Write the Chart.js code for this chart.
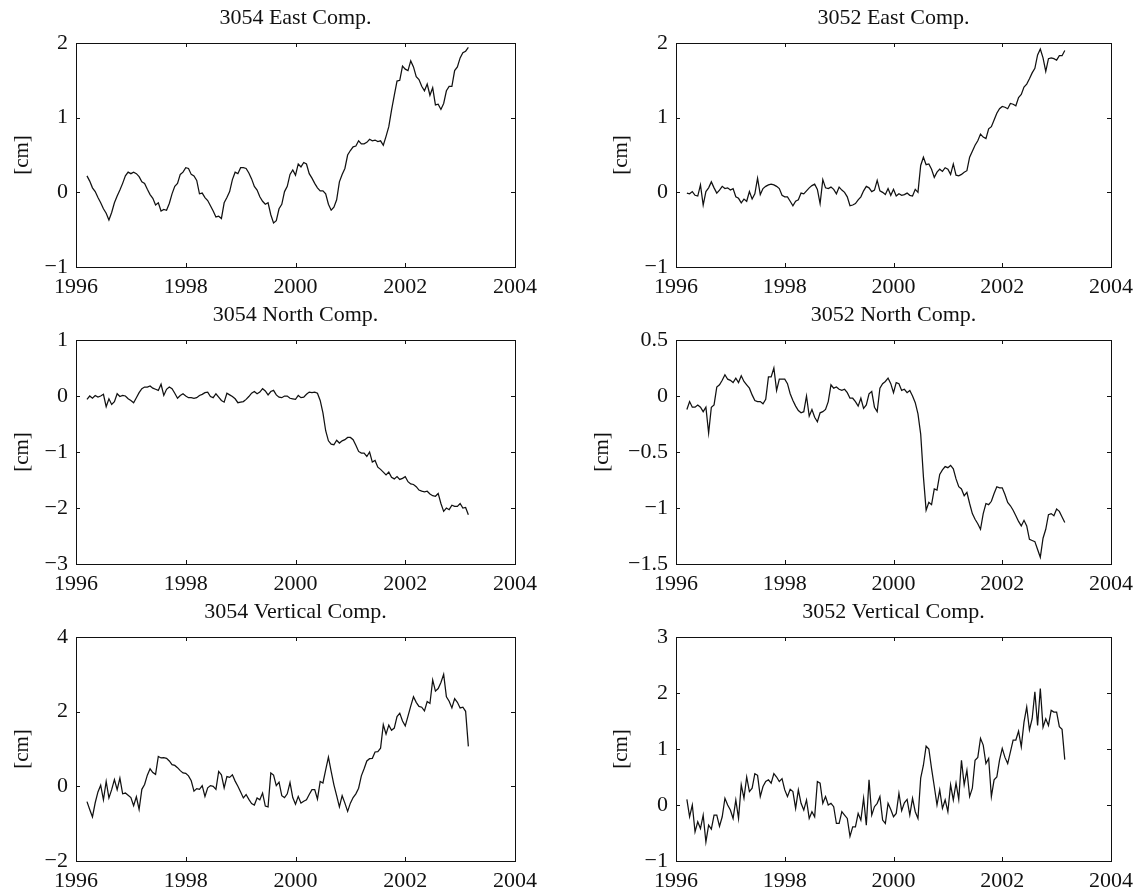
<!doctype html>
<html>
<head>
<meta charset="utf-8" />
<title>GPS displacement, stations 3054 and 3052</title>
<script src="https://cdn.jsdelivr.net/npm/chart.js"></script>
<style>
  html, body { margin: 0; background: #fff; }
  #fig { position: relative; width: 1140px; height: 896px; }
  #fig canvas { position: absolute; }
</style>
</head>
<body>
<div id="fig"></div>
<script>
// sampling: first epoch and spacing in decimal years
const T0 = 1996.2;
const DT = 0.05;

const X_TICKS = [1996, 1998, 2000, 2002, 2004];

// displacement series [cm]
const east3054 = [
  0.22, 0.15, 0.06, 0.01, -0.07, -0.14, -0.22, -0.28, -0.37, -0.27,
  -0.14, -0.05, 0.03, 0.12, 0.22, 0.27, 0.25, 0.27, 0.25, 0.21,
  0.14, 0.12, 0.04, -0.03, -0.08, -0.17, -0.14, -0.25, -0.23, -0.24,
  -0.15, -0.02, 0.08, 0.12, 0.24, 0.27, 0.33, 0.32, 0.24, 0.22,
  0.16, -0.02, -0.01, -0.07, -0.11, -0.18, -0.25, -0.33, -0.32, -0.35,
  -0.14, -0.07, 0.01, 0.17, 0.27, 0.25, 0.33, 0.33, 0.32, 0.26,
  0.18, 0.08, 0.03, -0.06, -0.12, -0.16, -0.14, -0.30, -0.41, -0.38,
  -0.22, -0.16, 0.01, 0.08, 0.24, 0.30, 0.23, 0.38, 0.34, 0.40,
  0.38, 0.25, 0.19, 0.12, 0.06, 0.02, 0.02, -0.02, -0.16, -0.24,
  -0.20, -0.10, 0.14, 0.24, 0.32, 0.50, 0.56, 0.61, 0.62, 0.69,
  0.65, 0.65, 0.67, 0.71, 0.69, 0.70, 0.68, 0.69, 0.63, 0.75,
  0.88, 1.10, 1.30, 1.49, 1.50, 1.69, 1.65, 1.63, 1.76, 1.68,
  1.55, 1.51, 1.42, 1.36, 1.45, 1.30, 1.40, 1.17, 1.18, 1.11,
  1.19, 1.36, 1.42, 1.42, 1.63, 1.68, 1.80, 1.87, 1.89, 1.94
];

const east3052 = [
  -0.01, -0.02, 0.01, -0.04, -0.05, 0.10, -0.17, 0.01, 0.06, 0.14,
  0.06, -0.01, 0.03, 0.08, 0.05, 0.06, 0.03, 0.05, -0.06, -0.08,
  -0.14, -0.09, -0.12, 0.01, -0.09, -0.02, 0.19, -0.03, 0.05, 0.08,
  0.10, 0.11, 0.10, 0.08, 0.05, -0.04, -0.06, -0.06, -0.12, -0.18,
  -0.12, -0.10, -0.01, -0.02, 0.02, 0.06, 0.09, 0.11, 0.04, -0.15,
  0.17, 0.06, 0.05, 0.07, 0.04, -0.02, 0.07, 0.03, 0.00, -0.06,
  -0.18, -0.17, -0.15, -0.10, -0.06, 0.02, 0.08, 0.06, 0.01, 0.03,
  0.16, 0.02, 0.00, -0.03, 0.05, -0.04, 0.04, -0.05, -0.02, -0.04,
  -0.03, -0.01, -0.04, -0.05, 0.04, 0.00, 0.36, 0.47, 0.37, 0.38,
  0.31, 0.20, 0.27, 0.31, 0.28, 0.33, 0.31, 0.24, 0.38, 0.23,
  0.22, 0.24, 0.27, 0.29, 0.47, 0.55, 0.63, 0.69, 0.78, 0.74,
  0.72, 0.85, 0.88, 0.97, 1.06, 1.12, 1.15, 1.14, 1.12, 1.19,
  1.18, 1.16, 1.27, 1.31, 1.41, 1.45, 1.52, 1.60, 1.66, 1.84,
  1.92, 1.80, 1.62, 1.79, 1.80, 1.79, 1.77, 1.83, 1.83, 1.90
];

const north3054 = [
  -0.06, 0.00, -0.04, 0.01, -0.02, 0.00, 0.03, -0.19, -0.05, -0.15,
  -0.10, 0.04, -0.01, 0.01, 0.00, -0.05, -0.08, -0.12, -0.03, 0.06,
  0.13, 0.16, 0.16, 0.18, 0.14, 0.12, 0.10, 0.21, 0.01, 0.12,
  0.16, 0.13, 0.05, -0.04, 0.01, 0.04, 0.00, -0.03, -0.03, -0.04,
  -0.03, 0.01, 0.03, 0.06, 0.07, -0.01, -0.03, 0.04, -0.02, -0.08,
  -0.11, 0.05, 0.02, -0.01, -0.05, -0.12, -0.11, -0.10, -0.06, -0.01,
  0.05, 0.08, 0.04, 0.07, 0.13, 0.09, 0.02, 0.08, 0.10, 0.02,
  -0.02, -0.03, 0.00, 0.00, -0.04, -0.05, -0.06, 0.01, -0.03, -0.02,
  0.03, 0.07, 0.06, 0.07, 0.05, -0.08, -0.30, -0.62, -0.80, -0.86,
  -0.87, -0.79, -0.84, -0.80, -0.78, -0.74, -0.74, -0.78, -0.88, -0.99,
  -1.02, -1.02, -1.08, -1.00, -1.18, -1.15, -1.27, -1.31, -1.36, -1.41,
  -1.36, -1.45, -1.48, -1.44, -1.49, -1.47, -1.44, -1.53, -1.57, -1.58,
  -1.62, -1.68, -1.70, -1.71, -1.70, -1.75, -1.78, -1.79, -1.74, -1.92,
  -2.06, -2.00, -2.03, -1.95, -1.97, -1.97, -1.92, -2.00, -1.99, -2.12
];

const north3052 = [
  -0.12, -0.05, -0.10, -0.10, -0.08, -0.10, -0.14, -0.10, -0.33, -0.10,
  -0.08, 0.08, 0.10, 0.14, 0.19, 0.15, 0.14, 0.12, 0.16, 0.12,
  0.18, 0.13, 0.10, 0.07, 0.01, -0.04, -0.05, -0.05, -0.07, -0.03,
  0.17, 0.17, 0.25, 0.05, 0.15, 0.15, 0.15, 0.11, 0.02, -0.04,
  -0.09, -0.13, -0.15, -0.14, 0.00, -0.18, -0.12, -0.19, -0.23, -0.15,
  -0.14, -0.12, -0.05, 0.10, 0.07, 0.08, 0.06, 0.05, 0.06, 0.03,
  -0.02, -0.02, -0.05, -0.09, -0.02, -0.11, -0.08, 0.02, 0.04, -0.10,
  -0.14, 0.07, 0.11, 0.13, 0.16, 0.11, 0.03, 0.12, 0.11, 0.05,
  0.06, 0.03, 0.05, 0.00, -0.06, -0.16, -0.34, -0.72, -1.02, -0.95,
  -0.97, -0.83, -0.84, -0.70, -0.66, -0.63, -0.64, -0.62, -0.65, -0.74,
  -0.81, -0.83, -0.89, -0.86, -0.96, -1.05, -1.10, -1.14, -1.19, -1.05,
  -0.96, -0.97, -0.94, -0.87, -0.81, -0.82, -0.82, -0.88, -0.95, -0.98,
  -1.02, -1.07, -1.12, -1.16, -1.11, -1.16, -1.28, -1.29, -1.30, -1.37,
  -1.44, -1.27, -1.19, -1.06, -1.05, -1.07, -1.01, -1.03, -1.08, -1.13
];

const vert3054 = [
  -0.41, -0.62, -0.82, -0.44, -0.15, 0.03, -0.36, 0.13, -0.31, -0.09,
  0.18, -0.09, 0.22, -0.20, -0.18, -0.24, -0.30, -0.52, -0.28, -0.62,
  -0.08, 0.05, 0.30, 0.47, 0.37, 0.32, 0.80, 0.76, 0.77, 0.75,
  0.68, 0.58, 0.56, 0.50, 0.42, 0.36, 0.35, 0.28, 0.15, -0.13,
  -0.06, -0.08, 0.02, -0.27, -0.04, 0.02, 0.00, -0.08, 0.40, 0.31,
  -0.04, 0.26, 0.24, 0.31, 0.14, 0.00, -0.15, -0.31, -0.22, -0.35,
  -0.46, -0.50, -0.31, -0.36, -0.18, -0.53, -0.55, 0.36, 0.30, 0.02,
  0.11, -0.25, -0.30, -0.20, 0.10, -0.30, -0.48, -0.27, -0.45, -0.40,
  -0.36, -0.22, -0.09, -0.09, -0.34, 0.13, 0.09, 0.44, 0.78, 0.40,
  0.04, -0.25, -0.55, -0.25, -0.45, -0.67, -0.45, -0.30, -0.20, -0.05,
  0.28, 0.47, 0.68, 0.74, 0.75, 0.92, 0.93, 1.02, 1.65, 1.40,
  1.64, 1.50, 1.56, 1.87, 1.96, 1.75, 1.62, 1.88, 2.15, 2.40,
  2.25, 2.14, 2.12, 2.02, 2.27, 2.22, 2.85, 2.55, 2.62, 2.78,
  3.00, 2.40, 2.28, 2.10, 2.35, 2.25, 2.10, 2.12, 2.01, 1.07
];

const vert3052 = [
  0.10, -0.21, 0.00, -0.48, -0.30, -0.42, -0.18, -0.66, -0.36, -0.43,
  -0.18, -0.18, -0.38, -0.21, 0.12, 0.00, -0.09, -0.24, 0.09, -0.24,
  0.36, 0.12, 0.50, 0.24, 0.30, 0.56, 0.53, 0.15, 0.33, 0.42,
  0.45, 0.39, 0.56, 0.50, 0.42, 0.47, 0.27, 0.15, 0.28, 0.24,
  -0.06, 0.27, 0.03, -0.09, 0.09, -0.24, -0.12, -0.21, 0.42, 0.39,
  0.03, 0.15, 0.00, 0.03, -0.03, -0.33, -0.33, -0.12, -0.18, -0.24,
  -0.56, -0.39, -0.39, -0.15, -0.27, 0.12, -0.36, 0.45, -0.18, -0.03,
  0.03, 0.15, -0.27, -0.33, 0.03, -0.08, -0.21, -0.15, 0.21, -0.10,
  0.04, 0.10, -0.18, 0.12, -0.12, -0.24, 0.48, 0.71, 1.05, 1.00,
  0.65, 0.33, 0.00, 0.27, -0.06, 0.09, -0.12, 0.36, 0.09, 0.39,
  0.10, 0.80, 0.36, 0.62, 0.15, 0.30, 0.80, 0.85, 1.19, 1.07,
  0.74, 0.83, 0.15, 0.45, 0.50, 0.80, 1.01, 0.85, 0.74, 0.95,
  1.16, 1.16, 1.32, 1.04, 1.48, 1.75, 1.34, 1.54, 2.02, 1.42,
  2.08, 1.39, 1.54, 1.42, 1.69, 1.66, 1.66, 1.40, 1.35, 0.81
];

const panels = [
  { title: '3054 East Comp.',     values: east3054,  yMin: -1,   yMax: 2,   yStep: 1,   col: 0, row: 0 },
  { title: '3052 East Comp.',     values: east3052,  yMin: -1,   yMax: 2,   yStep: 1,   col: 1, row: 0 },
  { title: '3054 North Comp.',    values: north3054, yMin: -3,   yMax: 1,   yStep: 1,   col: 0, row: 1 },
  { title: '3052 North Comp.',    values: north3052, yMin: -1.5, yMax: 0.5, yStep: 0.5, col: 1, row: 1 },
  { title: '3054 Vertical Comp.', values: vert3054,  yMin: -2,   yMax: 4,   yStep: 2,   col: 0, row: 2 },
  { title: '3052 Vertical Comp.', values: vert3052,  yMin: -1,   yMax: 3,   yStep: 1,   col: 1, row: 2 }
];

const FONT = '"Liberation Serif", "Times New Roman", serif';
const CELL_W = 570, CELL_H = 297;
const TICK = 4;

// axes box with inward ticks on all four sides, plus the panel title
const matlabFrame = {
  id: 'matlabFrame',
  afterDraw(chart, args, opts) {
    const { ctx, chartArea: a, scales: { x, y } } = chart;
    ctx.save();
    ctx.strokeStyle = '#111';
    ctx.lineWidth = 1;
    ctx.strokeRect(a.left + 0.5, a.top + 0.5, a.right - a.left, a.bottom - a.top);
    ctx.beginPath();
    x.ticks.forEach(t => {
      const px = Math.round(x.getPixelForValue(t.value)) + 0.5;
      ctx.moveTo(px, a.bottom); ctx.lineTo(px, a.bottom - TICK);
      ctx.moveTo(px, a.top); ctx.lineTo(px, a.top + TICK);
    });
    y.ticks.forEach(t => {
      const py = Math.round(y.getPixelForValue(t.value)) + 0.5;
      ctx.moveTo(a.left, py); ctx.lineTo(a.left + TICK, py);
      ctx.moveTo(a.right, py); ctx.lineTo(a.right - TICK, py);
    });
    ctx.stroke();
    ctx.fillStyle = '#111';
    ctx.font = '22px ' + FONT;
    ctx.textAlign = 'center';
    ctx.textBaseline = 'middle';
    ctx.fillText(opts.text, (a.left + a.right) / 2, a.top - 25);
    ctx.restore();
  }
};

const fig = document.getElementById('fig');

panels.forEach(p => {
  const canvas = document.createElement('canvas');
  canvas.width = CELL_W;
  canvas.height = CELL_H;
  canvas.style.left = (p.col * CELL_W) + 'px';
  canvas.style.top = (p.row * CELL_H) + 'px';
  fig.appendChild(canvas);

  const axisLeft = p.col === 0 ? 76 : 106;
  const padRight = p.col === 0 ? 55 : 25;
  // ylabel sits further out when the tick labels are wider
  const labelPad = p.col === 0 ? 10 : (p.yStep === 0.5 ? 20 : 39);

  const points = p.values.map((v, i) => ({ x: T0 + i * DT, y: v }));

  new Chart(canvas, {
    type: 'line',
    data: {
      datasets: [{
        data: points,
        borderColor: '#111',
        borderWidth: 1.25,
        pointRadius: 0,
        tension: 0,
        fill: false
      }]
    },
    options: {
      responsive: false,
      animation: false,
      events: [],
      layout: { padding: { left: 0, top: 43, right: padRight, bottom: 0 } },
      plugins: {
        legend: { display: false },
        tooltip: { enabled: false },
        matlabFrame: { text: p.title }
      },
      scales: {
        x: {
          type: 'linear',
          min: X_TICKS[0],
          max: X_TICKS[X_TICKS.length - 1],
          afterBuildTicks: s => { s.ticks = X_TICKS.map(v => ({ value: v })); },
          afterFit: s => { s.height = 30; },
          grid: { display: false, drawTicks: false },
          border: { display: false },
          ticks: {
            color: '#111',
            padding: 7,
            maxRotation: 0,
            font: { family: FONT, size: 22 },
            callback: v => String(v)
          }
        },
        y: {
          min: p.yMin,
          max: p.yMax,
          afterFit: s => { s.width = axisLeft; },
          grid: { display: false, drawTicks: false },
          border: { display: false },
          ticks: {
            stepSize: p.yStep,
            color: '#111',
            padding: 8,
            font: { family: FONT, size: 22 },
            callback: v => String(v).replace('-', '\u2212')
          },
          title: {
            display: true,
            text: '[cm]',
            color: '#111',
            padding: { top: labelPad, bottom: 0 },
            font: { family: FONT, size: 21 }
          }
        }
      }
    },
    plugins: [matlabFrame]
  });
});
</script>
</body>
</html>
